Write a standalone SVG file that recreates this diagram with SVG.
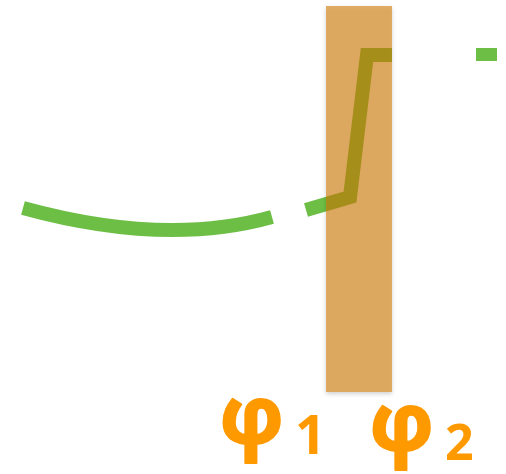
<svg xmlns="http://www.w3.org/2000/svg" width="506" height="474" viewBox="0 0 506 474">
<defs>
<filter id="sh" x="-20%" y="-5%" width="140%" height="110%">
<feGaussianBlur in="SourceAlpha" stdDeviation="2" result="b"/>
<feOffset in="b" dy="2" result="o"/>
<feFlood flood-color="#000" flood-opacity="0.3"/>
<feComposite operator="in" in2="o" result="s"/>
<feComposite operator="out" in="s" in2="SourceAlpha" result="so"/>
<feMerge><feMergeNode in="so"/><feMergeNode in="SourceGraphic"/></feMerge>
</filter>
<style>
.g{fill:none;stroke:#6DBE45;stroke-width:14}
.t{fill:#FF9900;font-family:"Open Sans","DejaVu Sans",sans-serif;font-weight:bold}
.p{stroke:#FF9900;stroke-width:2;stroke-linejoin:round}
</style>
</defs>
<g id="connectors">
<path class="g" d="M23,208 Q165,247 272,217"/>
<path class="g" stroke-linejoin="miter" d="M306,210 L350,197 L367,55 L392,55"/>
<rect x="476" y="48" width="21" height="13" fill="#6DBE45"/>
</g>
<g id="band">
<rect x="326" y="6" width="66" height="386" fill="#CC7500" fill-opacity="0.6" filter="url(#sh)"/>
</g>
<g id="labels">
<text class="t p" x="220" y="444" font-size="80">φ</text>
<text class="t" x="295" y="454" font-size="54">1</text>
<text class="t p" x="370" y="451" font-size="80">φ</text>
<text class="t" x="445" y="460" font-size="50">2</text>
</g>
</svg>
